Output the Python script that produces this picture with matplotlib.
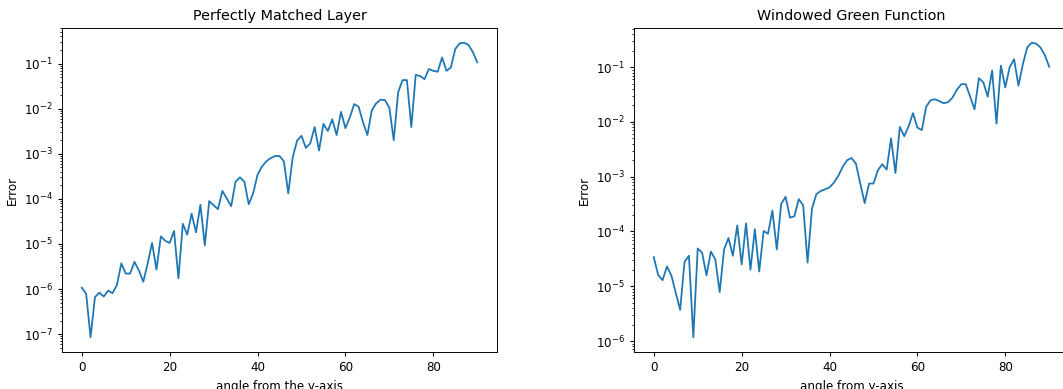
import matplotlib
matplotlib.use("Agg")
import matplotlib.pyplot as plt
import numpy as np

angles = np.arange(0, 91)

# error of the PML method
pml_error = [
    1.07e-6, 7.8e-7, 8.5e-8, 6.6e-7, 8.3e-7, 6.8e-7, 9.2e-7, 8.1e-7, 1.23e-6, 3.7e-6,
    2.2e-6, 2.2e-6, 4.0e-6, 2.6e-6, 1.45e-6, 3.7e-6, 1.05e-5, 2.7e-6, 1.47e-5, 1.17e-5,
    1.05e-5, 1.94e-5, 1.73e-6, 2.8e-5, 1.6e-5, 4.7e-5, 1.8e-5, 7.4e-5, 9.3e-6, 8.9e-5,
    7.2e-5, 5.9e-5, 1.5e-4, 1.02e-4, 6.9e-5, 2.4e-4, 3.0e-4, 2.4e-4, 7.6e-5, 1.32e-4,
    3.4e-4, 5.2e-4, 6.8e-4, 8.0e-4, 8.9e-4, 8.9e-4, 6.8e-4, 1.32e-4, 8.3e-4, 1.95e-3,
    2.5e-3, 1.35e-3, 1.7e-3, 3.9e-3, 1.18e-3, 4.6e-3, 3.2e-3, 5.8e-3, 2.6e-3, 8.5e-3,
    3.7e-3, 6.4e-3, 1.26e-2, 1.11e-2, 5.0e-3, 2.6e-3, 9.1e-3, 1.31e-2, 1.58e-2, 1.55e-2,
    1.05e-2, 2.0e-3, 2.3e-2, 4.3e-2, 4.3e-2, 3.9e-3, 5.6e-2, 5.3e-2, 4.5e-2, 7.6e-2,
    6.9e-2, 6.6e-2, 0.136, 6.9e-2, 8.2e-2, 0.21, 0.28, 0.29, 0.26, 0.18,
    0.107,
]

# error of the WGF method
wgf_error = [
    3.4e-5, 1.6e-5, 1.29e-5, 2.3e-5, 1.58e-5, 7.6e-6, 3.7e-6, 2.8e-5, 3.6e-5, 1.17e-6,
    4.9e-5, 4.1e-5, 1.58e-5, 4.3e-5, 3.1e-5, 7.8e-6, 4.7e-5, 7.6e-5, 3.6e-5, 1.29e-4,
    2.5e-5, 1.41e-4, 2.0e-5, 1.1e-4, 1.86e-5, 1.02e-4, 9.1e-5, 2.4e-4, 4.7e-5, 3.2e-4,
    4.3e-4, 1.79e-4, 1.9e-4, 3.9e-4, 3.0e-4, 2.7e-5, 2.6e-4, 4.8e-4, 5.5e-4, 5.9e-4,
    6.4e-4, 7.8e-4, 1.04e-3, 1.52e-3, 2.0e-3, 2.2e-3, 1.74e-3, 7.5e-4, 3.3e-4, 7.5e-4,
    7.5e-4, 1.31e-3, 1.69e-3, 1.35e-3, 5.0e-3, 1.17e-3, 8.1e-3, 5.5e-3, 8.3e-3, 1.45e-2,
    7.9e-3, 7.1e-3, 1.9e-2, 2.5e-2, 2.6e-2, 2.4e-2, 2.2e-2, 2.3e-2, 2.8e-2, 3.9e-2,
    4.9e-2, 4.9e-2, 2.9e-2, 1.7e-2, 6.3e-2, 5.3e-2, 2.9e-2, 8.7e-2, 9.3e-3, 0.107,
    4.3e-2, 0.1, 0.14, 4.6e-2, 0.114, 0.23, 0.28, 0.27, 0.23, 0.166,
    0.102,
]

titles = ["Perfectly Matched Layer", "Windowed Green Function"]
xlabels = ["angle from the y-axis", "angle from y-axis"]

s = 0.86
plt.rcParams["font.size"] = 10 * s
plt.rcParams["xtick.major.size"] = 3.5 * s
plt.rcParams["ytick.major.size"] = 3.5 * s
plt.rcParams["xtick.minor.size"] = 2 * s
plt.rcParams["ytick.minor.size"] = 2 * s
plt.rcParams["axes.linewidth"] = 0.8 * s

W, H = 1063, 389
fig = plt.figure(figsize=(W / 100, H / 100), dpi=100)
ax1 = fig.add_axes([62 / W, 37 / H, 435 / W, 324 / H])
ax2 = fig.add_axes([634 / W, 37 / H, 435 / W, 324 / H])

for ax, err, title, xl in zip([ax1, ax2], [pml_error, wgf_error], titles, xlabels):
    ax.plot(angles, err, lw=1.5 * s)            # error curve
    ax.set_yscale("log")
    ax.set_title(title, fontsize=12 * s)
    ax.set_xlabel(xl)
    ax.set_ylabel("Error")

fig.savefig("out.png", dpi=100)
